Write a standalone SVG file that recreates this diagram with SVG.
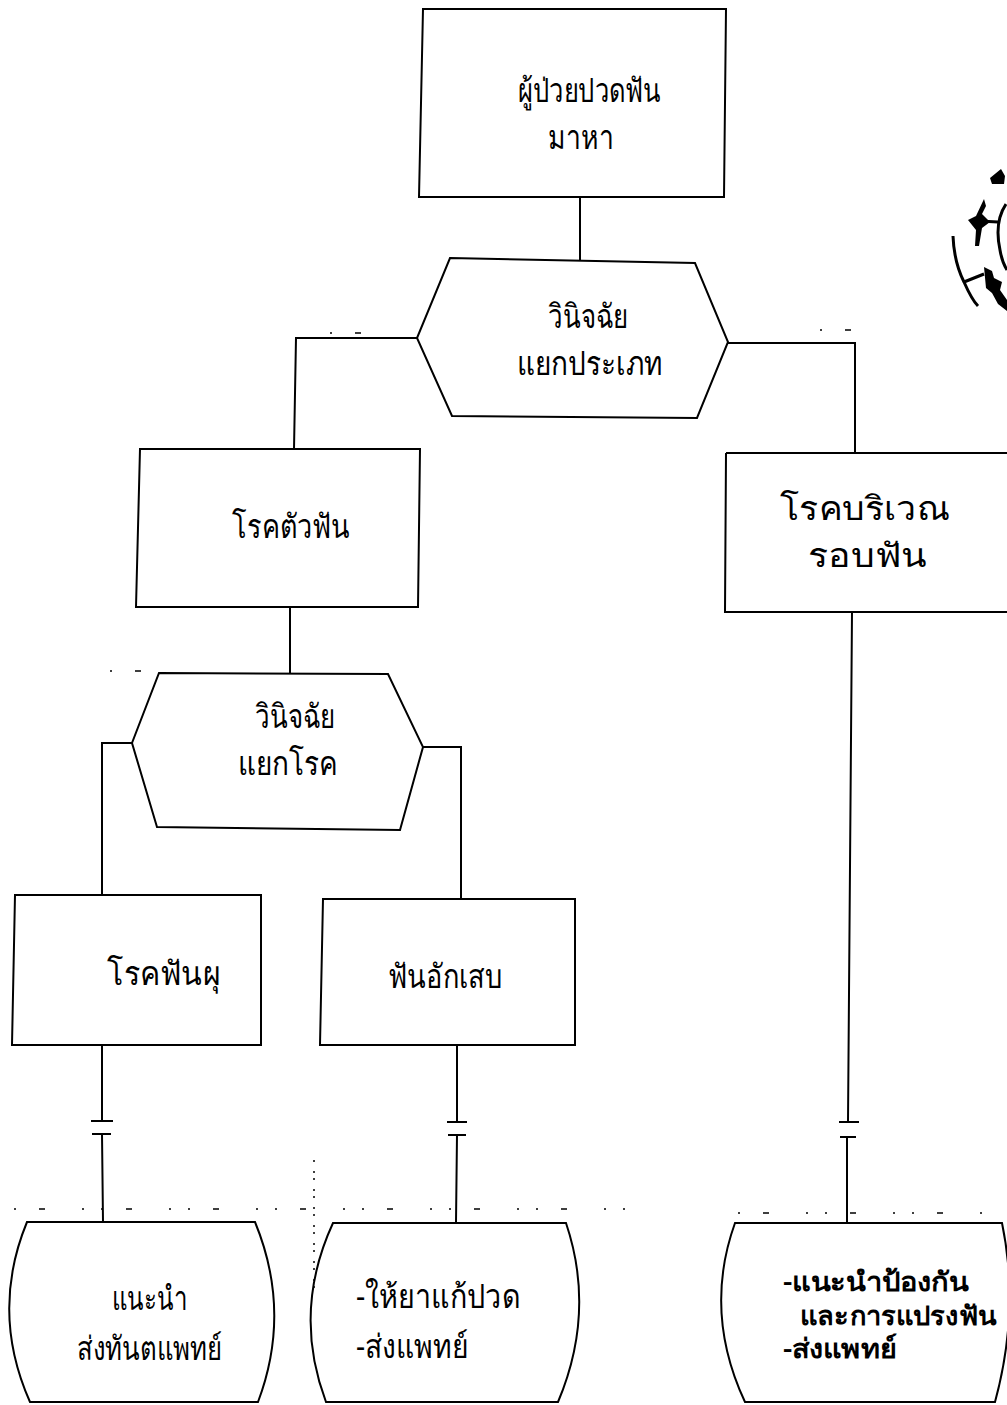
<svg xmlns="http://www.w3.org/2000/svg" width="1007" height="1405" viewBox="0 0 1007 1405">
<style>
.s{fill:none;stroke:#000;stroke-width:2;stroke-linejoin:miter}
.t{font-family:"Noto Sans","DejaVu Sans","Liberation Sans",sans-serif;font-size:33px;fill:#000}
.b{font-size:27px;font-weight:600}
.d{fill:#000;stroke:none}
.k{fill:none;stroke:#000;stroke-width:1.5;stroke-dasharray:2 23 6 37 2 17}
</style>
<rect width="1007" height="1405" fill="#fff"/>
<g id="connectors" class="s">
<path d="M580 197V260"/>
<path d="M417 338H296L294 449"/>
<path d="M728 343H855V453"/>
<path d="M290 607V673"/>
<path d="M132 743H102V895"/>
<path d="M423 747H461V899"/>
<path d="M102 1045V1121M91 1121H113M92 1134H111M102 1134L103 1222"/>
<path d="M457 1045V1122M447 1122H467M448 1135H466M457 1135L456 1222"/>
<path d="M852 612L848 1122M839 1122H859M840 1137H856M847 1137V1222"/>
</g>
<g id="node-patient"><path class="s" d="M423 9H726L724 197H419Z"/><text class="t" x="518" y="102" textLength="143" lengthAdjust="spacingAndGlyphs">ผู้ป่วยปวดฟัน</text><text class="t" x="548" y="149" textLength="66" lengthAdjust="spacingAndGlyphs">มาหา</text></g>
<g id="node-diagnose-type"><path class="s" d="M450 258L695 263L728 342L697 418L452 416L417 338Z"/><text class="t" x="548" y="328" textLength="80" lengthAdjust="spacingAndGlyphs">วินิจฉัย</text><text class="t" x="517" y="375" textLength="146" lengthAdjust="spacingAndGlyphs">แยกประเภท</text></g>
<g id="node-tooth"><path class="s" d="M140 449H420L418 607H136Z"/><text class="t" x="232" y="538" textLength="118" lengthAdjust="spacingAndGlyphs">โรคตัวฟัน</text></g>
<g id="node-periodontal"><path class="s" d="M726 453H1007M1007 612H725L726 453"/><text class="t" x="780" y="520" textLength="170" lengthAdjust="spacingAndGlyphs">โรคบริเวณ</text><text class="t" x="808" y="567" textLength="119" lengthAdjust="spacingAndGlyphs">รอบฟัน</text></g>
<g id="node-diagnose-disease"><path class="s" d="M159 673L388 674L423 747L400 830L157 827L132 743Z"/><text class="t" x="255" y="728" textLength="80" lengthAdjust="spacingAndGlyphs">วินิจฉัย</text><text class="t" x="238" y="775" textLength="100" lengthAdjust="spacingAndGlyphs">แยกโรค</text></g>
<g id="node-caries"><path class="s" d="M15 895H261V1045H12Z"/><text class="t" x="107" y="985" textLength="113" lengthAdjust="spacingAndGlyphs">โรคฟันผุ</text></g>
<g id="node-pulpitis"><path class="s" d="M323 899H575V1045H320Z"/><text class="t" x="388" y="988" textLength="114" lengthAdjust="spacingAndGlyphs">ฟันอักเสบ</text></g>
<g id="node-advise"><path class="s" d="M27 1222H255Q292 1312 258 1402H30Q-10 1312 27 1222Z"/><text class="t" x="112" y="1310" textLength="76" lengthAdjust="spacingAndGlyphs">แนะนำ</text><text class="t" x="77" y="1360" textLength="145" lengthAdjust="spacingAndGlyphs">ส่งทันตแพทย์</text></g>
<g id="node-relief"><path class="s" d="M333 1223H566Q596 1312 558 1402H326Q292 1312 333 1223Z"/><text class="t" x="356" y="1308" textLength="164" lengthAdjust="spacingAndGlyphs">-ให้ยาแก้ปวด</text><text class="t" x="356" y="1358" textLength="112" lengthAdjust="spacingAndGlyphs">-ส่งแพทย์</text></g>
<g id="node-prevent"><path class="s" d="M735 1223H1002Q1020 1310 995 1402H745Q703 1312 735 1223Z"/><text class="t b" x="783" y="1291" textLength="185" lengthAdjust="spacingAndGlyphs">-แนะนำป้องกัน</text><text class="t b" x="800" y="1325" textLength="196" lengthAdjust="spacingAndGlyphs">และการแปรงฟัน</text><text class="t b" x="783" y="1358" textLength="114" lengthAdjust="spacingAndGlyphs">-ส่งแพทย์</text></g>
<g id="specks">
<path class="k" d="M14 1209H640"/>
<path class="k" d="M738 1213H985"/>
<path class="k" d="M110 671H160"/>
<path class="k" d="M330 333H380M820 330H860"/>
<path class="k" style="stroke-dasharray:2 9 2 5" d="M314 1160V1290"/>
</g>
<g id="emblem">
<path class="s" style="stroke-width:3" d="M953 236Q954 262 964 282Q972 300 978 306M964 282L984 274M979 221L998 222M1006 204Q994 222 1000 250Q1002 262 1007 270"/>
<path class="d" d="M984 199L986 206L982 214L990 222L982 228L979 246L975 246L976 230L968 220L976 216ZM984 267L992 271L994 278L1002 282L1000 290L1007 300V311L998 304L992 293L986 288ZM990 178L1001 169L1005 176L1004 184L992 184Z"/>
</g>
</svg>
